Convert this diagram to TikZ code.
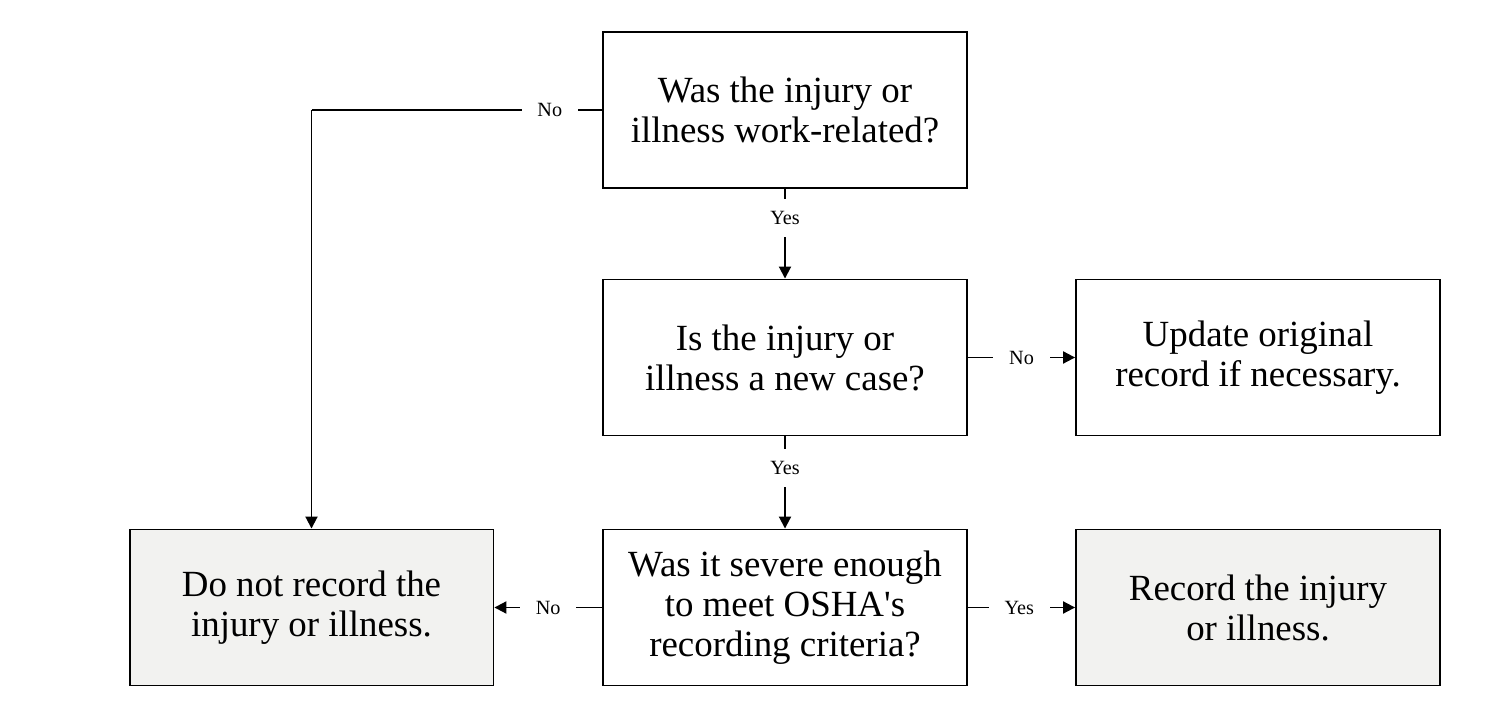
\documentclass[tikz,border=0pt]{standalone}
\usepackage{fontspec}
\setmainfont{Liberation Serif}
\usetikzlibrary{arrows.meta}
\definecolor{boxgray}{RGB}{242,242,240}
\begin{document}
\begin{tikzpicture}[x=0.02cm,y=-0.02cm,>={Triangle[length=0.24cm,width=0.24cm]},
        box/.style={draw,line width=1.1pt,minimum width=7.28cm,minimum height=3.12cm,inner sep=0pt,align=center,font=\fontsize{21}{22.8}\selectfont},
        endbox/.style={box,fill=boxgray},
        lbl/.style={fill=white,inner xsep=9pt,inner ysep=7pt,font=\fontsize{11.5}{12}\selectfont},
        line/.style={line width=1.1pt}]
        \useasboundingbox (0,0) rectangle (1505,722);
        \fill[white] (0,0) rectangle (1505,722);
        % boxes
        \node[box] (work) at (785,110) {Was the injury or\\illness work-related?};
        \node[box] (newcase) at (785,357.5) {Is the injury or\\illness a new case?};
        \node[box] (update) at (1258,357.5) {Update original\\record if necessary.};
        \node[box] (severe) at (785,607.5) {Was it severe enough\\to meet OSHA\textquotesingle s\\recording criteria?};
        \node[endbox] (record) at (1258,607.5) {Record the injury\\or illness.};
        \node[endbox] (norecord) at (311.5,607.5) {Do not record the\\injury or illness.};
        % connectors
        \coordinate (corner) at (norecord.north |- work.west);
        \draw[line] (work.west) -- node[lbl,pos=0.18]{No} (corner);
        \draw[line,->] (corner) -- (norecord.north);
        \draw[line,->] (work.south) -- node[lbl,pos=0.32]{Yes} (newcase.north);
        \draw[line,->] (newcase.east) -- node[lbl]{No} (update.west);
        \draw[line,->] (newcase.south) -- node[lbl,pos=0.34]{Yes} (severe.north);
        \draw[line,->] (severe.west) -- node[lbl]{No} (norecord.east);
        \draw[line,->] (severe.east) -- node[lbl,pos=0.48]{Yes} (record.west);
    \end{tikzpicture}
\end{document}
